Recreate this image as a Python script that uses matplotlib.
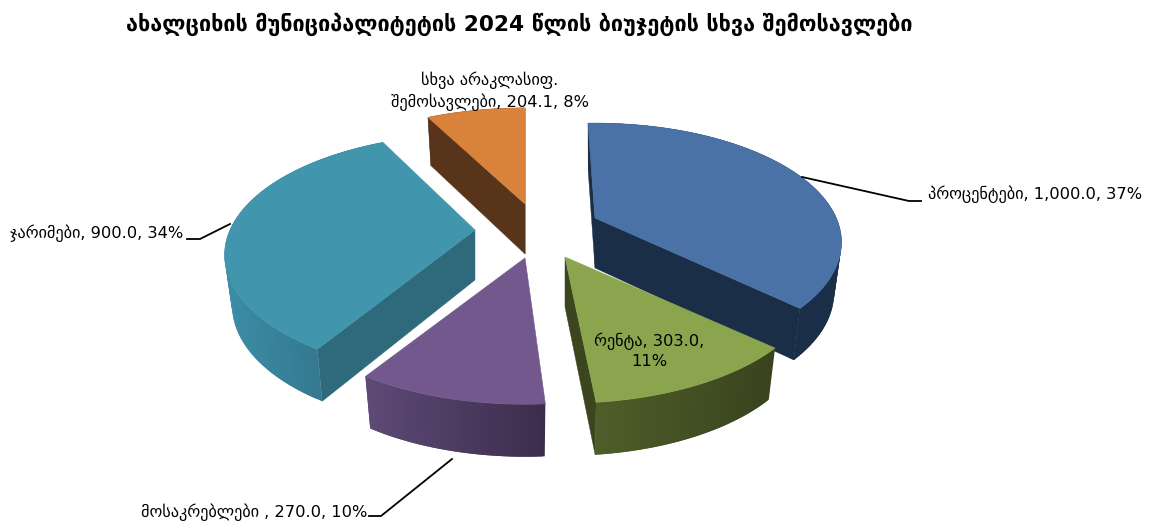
import numpy as np
import matplotlib
matplotlib.use('Agg')
import matplotlib.pyplot as plt
from matplotlib.colors import to_rgb

plt.rcParams['font.family'] = ['DejaVu Sans']

TITLE = 'ახალციხის მუნიციპალიტეტის 2024 წლის ბიუჯეტის სხვა შემოსავლები'

# budget items, in the order they go round the pie (clockwise from the top)
names = ['პროცენტები', 'რენტა', 'მოსაკრებლები', 'ჯარიმები', 'სხვა არაკლასიფ. შემოსავლები']
values = [1000.0, 303.0, 270.0, 900.0, 204.1]
labels = ['პროცენტები, 1,000.0, 37%', 'რენტა, 303.0,\n11%', 'მოსაკრებლები , 270.0, 10%',
          'ჯარიმები, 900.0, 34%', 'სხვა არაკლასიფ.\nშემოსავლები, 204.1, 8%']

top_colors = ['#4A72A6', '#8AA54E', '#72588C', '#4196AE', '#D9823B']
cut_colors = ['#1B2E47', '#3B451E', '#3E2D4F', '#2E6A7C', '#58341A']
rim_left = ['#1B2E47', '#4E5E2A', '#5E4A76', '#3C8DA6', '#58341A']
rim_right = ['#1B2E47', '#39431D', '#3C2C4C', '#2F6A7F', '#58341A']

# tip of each exploded slice, in pixels
tips = [(595, 218), (565, 257), (525, 258), (475, 230), (525, 204)]
# the perspective in the original bends the slice edges a little (degrees)
nudge_start = [-1.0, -1.0, 2.0, 1.5, 0.5]
nudge_end = [-0.5, 0.0, 2.0, 2.0, 1.0]
radius_scale = [0.985, 1.0, 1.0, 1.0, 1.0]

# fake perspective of the 3d pie
RX = 245
RY = 116
PERSP = 0.207
DEPTH = 50
BOTTOM_SHRINK = 0.97
START_DEG = -1

W, H = 1149, 521


def project(tip, ang, r=1.0, lower=False):
    # ang in degrees clockwise from 12 o'clock
    a = np.radians(ang)
    u = r * np.sin(a)
    v = -r * np.cos(a)
    s = 1 / (1 - PERSP * v)
    k = BOTTOM_SHRINK if lower else 1.0
    x = tip[0] + RX * u * s * k
    y = tip[1] + RY * v * s * k
    if lower:
        y = y + DEPTH * s ** 0.55
    return x, y


def mix(c0, c1, t):
    c0, c1 = np.array(to_rgb(c0)), np.array(to_rgb(c1))
    return tuple(c0 + (c1 - c0) * t)


def draw_cut(ax, tip, ang, mid_ang, color, r):
    # flat cut face, only if it looks to the viewer
    a = np.array(project(tip, 0, 0.0))
    p = np.array(project(tip, ang, r))
    m = np.array(project(tip, mid_ang, r))
    e = p - a
    side = e[0] * (m - a)[1] - e[1] * (m - a)[0]
    if e[0] * side > 0:
        return
    pts = [a, p, project(tip, ang, r, lower=True), project(tip, 0, 0.0, lower=True)]
    ax.fill(*zip(*pts), color=color, lw=0.3, zorder=2)


fig = plt.figure(figsize=(W / 100, H / 100), dpi=100)
ax = fig.add_axes([0, 0, 1, 1])
ax.set_xlim(0, W)
ax.set_ylim(H, 0)
ax.axis('off')

vals = np.array(values)
edges = START_DEG + np.concatenate([[0], np.cumsum(vals)]) / vals.sum() * 360

for i in [4, 3, 0, 2, 1]:
    t0, t1 = edges[i] + nudge_start[i], edges[i + 1] + nudge_end[i]
    tip = tips[i]
    r = radius_scale[i]
    angs = np.linspace(t0, t1, 90)
    draw_cut(ax, tip, t0, (t0 + t1) / 2, cut_colors[i], r)
    draw_cut(ax, tip, t1, (t0 + t1) / 2, cut_colors[i], r)

    upper = np.array([project(tip, a, r) for a in angs])
    lower = np.array([project(tip, a, r, lower=True) for a in angs])
    xmin, xmax = upper[:, 0].min(), upper[:, 0].max()
    n = len(angs)
    for j in range(n - 1):
        t = ((upper[j, 0] + upper[j + 1, 0]) / 2 - xmin) / (xmax - xmin)
        c = mix(rim_left[i], rim_right[i], t)
        # each quad runs over the next one so no seams show
        k = min(j + 2, n - 1)
        quad = [upper[j], upper[k], lower[k], lower[j]]
        ax.fill(*zip(*quad), color=c, lw=0, zorder=2)

    top = np.vstack([[tip], upper])
    ax.fill(top[:, 0], top[:, 1], color=top_colors[i], lw=0.4, zorder=3)

# leader lines
ax.plot([802, 909, 921], [177, 201, 201], color='black', lw=1.3, zorder=4)
ax.plot([230, 200, 187], [224, 239, 239], color='black', lw=1.3, zorder=4)
ax.plot([452, 381, 369], [459, 516, 516], color='black', lw=1.3, zorder=4)

ax.text(519, 24, TITLE, fontsize=15.6, fontweight='bold', ha='center', va='center')
ax.text(1035.5, 194, labels[0], fontsize=11.7, ha='center', va='center')
ax.text(649, 351, labels[1], fontsize=11.7, ha='center', va='center', linespacing=1.35)
ax.text(254, 512, labels[2], fontsize=11.7, ha='center', va='center')
ax.text(96.5, 233, labels[3], fontsize=11.7, ha='center', va='center')
ax.text(490, 91, labels[4], fontsize=11.7, ha='center', va='center', linespacing=1.35)

fig.savefig('out.png', dpi=100)
